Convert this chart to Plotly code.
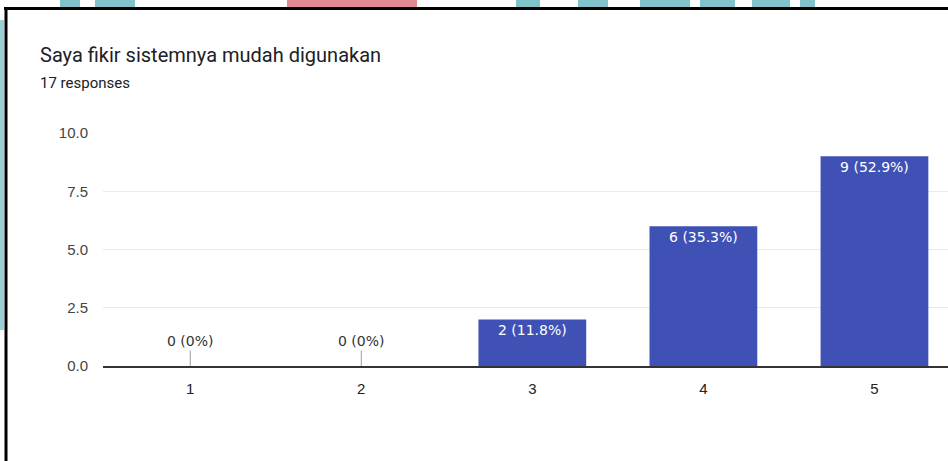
import plotly.graph_objects as go

categories = ["1", "2", "3", "4", "5"]
counts = [0, 0, 2, 6, 9]
y_ticks = [0, 2.5, 5, 7.5, 10]
y_tick_labels = ["0.0", "2.5", "5.0", "7.5", "10.0"]
title_text = "Saya fikir sistemnya mudah digunakan"
subtitle_text = "17 responses"

total = sum(counts)


def pct_label(v):
    p = 100.0 * v / total
    s = f"{p:.1f}".rstrip("0").rstrip(".")
    return f"{v} ({s}%)"


labels = [pct_label(v) for v in counts]

W, H = 948, 461
ML, MR, MT, MB = 103, 0, 133, 95
PW, PH = W - ML - MR, H - MT - MB


def px(x):
    return (x - ML) / PW


def py(y):
    return (H - MB - y) / PH


x_pos = [int(c) for c in categories]
bar_text = [lab if v > 0 else "" for v, lab in zip(counts, labels)]

fig = go.Figure()
fig.add_trace(go.Bar(
    x=x_pos, y=counts, width=0.63,
    marker=dict(color="#3f51b5", line=dict(width=0)),
    text=bar_text, textposition="inside", insidetextanchor="end",
    textfont=dict(color="white", size=14, family="DejaVu Sans"),
    constraintext="none", cliponaxis=False,
    hoverinfo="skip",
))

annotations = []
for xv, v, lab in zip(x_pos, counts, labels):
    if v == 0:
        annotations.append(dict(
            x=xv, y=0, xref="x", yref="y", text=lab,
            showarrow=True, arrowhead=0, arrowwidth=1, arrowcolor="#9e9e9e",
            ax=0, ay=-25, standoff=0,
            font=dict(color="#333333", size=14, family="DejaVu Sans"),
        ))

annotations.append(dict(
    x=px(38), y=py(55), xref="paper", yref="paper", xanchor="left", yanchor="middle",
    text=title_text, showarrow=False,
    font=dict(size=20, color="#202124", family="Roboto"),
))
annotations.append(dict(
    x=px(38), y=py(83), xref="paper", yref="paper", xanchor="left", yanchor="middle",
    text=subtitle_text, showarrow=False,
    font=dict(size=15, color="#202124", family="Roboto"),
))

shapes = []
teal = "#80c3cb"
pink = "#e08a92"
# decorative background strips above the frame
for x0, x1, col in [(60, 80, teal), (95, 135, teal), (287, 417, pink),
                    (516, 540, teal), (578, 608, teal), (640, 690, teal),
                    (700, 735, teal), (752, 790, teal), (800, 815, teal)]:
    shapes.append(dict(type="rect", xref="paper", yref="paper",
                       x0=px(x0), x1=px(x1), y0=py(7), y1=py(0),
                       fillcolor=col, line=dict(width=0), layer="below"))
shapes.append(dict(type="rect", xref="paper", yref="paper",
                   x0=px(0), x1=px(4), y0=py(330), y1=py(20),
                   fillcolor=teal, line=dict(width=0), layer="below", opacity=0.8))
# black frame
shapes.append(dict(type="line", xref="paper", yref="paper",
                   x0=px(4), x1=px(948), y0=py(8.5), y1=py(8.5),
                   line=dict(color="black", width=3)))
shapes.append(dict(type="line", xref="paper", yref="paper",
                   x0=px(6), x1=px(6), y0=py(7), y1=py(461),
                   line=dict(color="black", width=3)))

fig.update_layout(
    width=W, height=H,
    margin=dict(l=ML, r=MR, t=MT, b=MB, pad=0),
    paper_bgcolor="white", plot_bgcolor="white",
    showlegend=False,
    annotations=annotations, shapes=shapes,
    font=dict(family="Arial", color="#444444"),
    xaxis=dict(
        range=[0.49, 5.43], tickvals=x_pos, ticktext=categories,
        showgrid=False, zeroline=False,
        showline=True, linecolor="#333333", linewidth=2,
        ticks="", ticklabelstandoff=8,
        tickfont=dict(size=15, color="#222222", family="Arial"),
        fixedrange=True,
    ),
    yaxis=dict(
        range=[0, 10], tickvals=y_ticks, ticktext=y_tick_labels,
        showgrid=True, gridcolor="#ebebeb", gridwidth=1,
        zeroline=False, showline=False, ticks="", ticklabelstandoff=14,
        tickfont=dict(size=15, color="#444444", family="Arial"),
        fixedrange=True,
    ),
)

fig.write_html("out.html", config={"displayModeBar": False},
               post_script="document.body.style.margin='0';document.body.style.padding='0';")
